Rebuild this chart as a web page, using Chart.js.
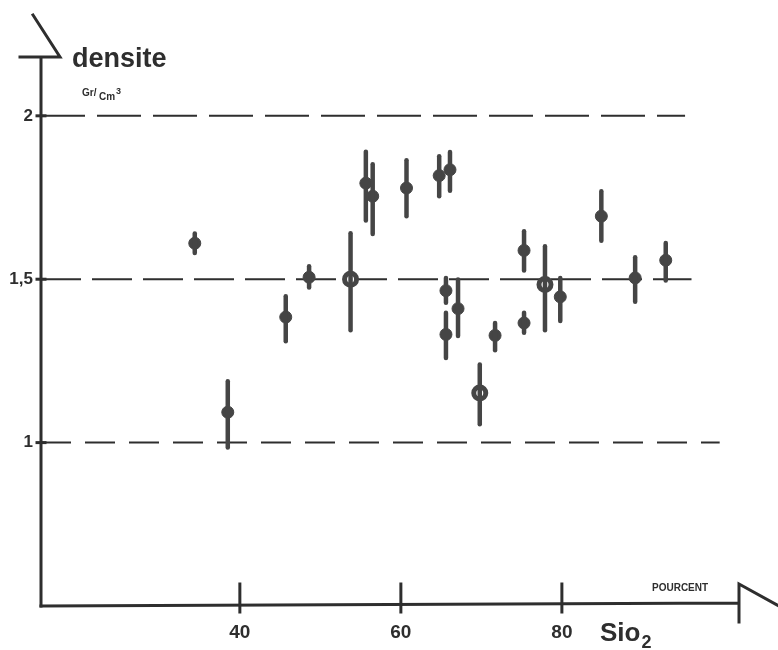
<!DOCTYPE html>
<html>
<head>
<meta charset="utf-8">
<script src="https://cdn.jsdelivr.net/npm/chart.js@4/dist/chart.umd.min.js"></script>
<style>
  html, body { margin: 0; padding: 0; background: #fff; }
  .wrap { width: 778px; height: 650px; position: relative; }
</style>
</head>
<body>
<div class="wrap"><canvas id="chart"></canvas></div>
<script>
// silice (%) et densite (g/cm3) des echantillons
const sio2 = [34.4, 38.5, 45.7, 48.6, 53.75, 55.65, 56.5, 60.7, 64.76, 66.1, 65.6,
  65.6, 67.1, 69.8, 71.7, 75.3, 75.3, 77.9, 79.8, 84.9, 89.1, 92.9];
const densite = [1.61, 1.093, 1.384, 1.506, 1.5, 1.794, 1.754, 1.779, 1.817, 1.835, 1.465,
  1.331, 1.41, 1.152, 1.328, 1.366, 1.588, 1.484, 1.446, 1.693, 1.504, 1.558];
const densiteMax = [1.64, 1.188, 1.448, 1.54, 1.641, 1.89, 1.852, 1.864, 1.876, 1.889, 1.504,
  1.397, 1.499, 1.239, 1.366, 1.397, 1.647, 1.601, 1.504, 1.769, 1.567, 1.611];
const densiteMin = [1.58, 0.985, 1.31, 1.475, 1.344, 1.68, 1.638, 1.693, 1.754, 1.771, 1.428,
  1.259, 1.326, 1.056, 1.283, 1.336, 1.527, 1.344, 1.372, 1.618, 1.431, 1.496];
const pointsCreux = [4, 13, 17];

const niveaux = [2, 1.5, 1];
const finNiveaux = [95.3, 96.1, 99.6];
const xTicks = [40, 60, 80];
const yTicks = [2, 1.5, 1];
const yTickLabels = ["2", "1,5", "1"];

const X_MIN = 15.3, X_MAX = 102, Y_MIN = 0.5, Y_MAX = 2.18;
const INK = "#2e2e2e";
const MARK = "#454545";
const dashes = [[44, 12], [40, 11], [30, 14]];

const refSets = niveaux.map((lvl, i) => ({
  type: "line",
  data: [{ x: X_MIN, y: lvl }, { x: finNiveaux[i], y: lvl }],
  borderColor: INK,
  borderWidth: 2,
  borderDash: dashes[i],
  pointRadius: 0,
  order: 2,
}));

const axesPlugin = {
  id: "axes",
  afterDatasetsDraw(chart) {
    const { ctx, scales } = chart;
    const sx = scales.x, sy = scales.y;
    const x0 = sx.getPixelForValue(X_MIN);
    const y0 = sy.getPixelForValue(Y_MIN);
    const xEnd = sx.getPixelForValue(X_MAX);
    const yTop = sy.getPixelForValue(Y_MAX);

    // barres d'erreur
    ctx.save();
    ctx.strokeStyle = MARK;
    ctx.lineWidth = 4.5;
    ctx.lineCap = "round";
    sio2.forEach((v, i) => {
      const px = sx.getPixelForValue(v);
      ctx.beginPath();
      ctx.moveTo(px, sy.getPixelForValue(densiteMax[i]));
      ctx.lineTo(px, sy.getPixelForValue(densiteMin[i]));
      ctx.stroke();
    });
    ctx.restore();

    ctx.save();
    ctx.strokeStyle = INK;
    ctx.lineWidth = 3;
    ctx.lineCap = "square";
    // axe vertical + fleche
    ctx.beginPath();
    ctx.moveTo(x0, y0);
    ctx.lineTo(x0, yTop);
    ctx.moveTo(x0 - 21, yTop);
    ctx.lineTo(x0 + 19, yTop);
    ctx.lineTo(x0 - 8, yTop - 42);
    ctx.stroke();
    // axe horizontal + fleche
    ctx.beginPath();
    ctx.moveTo(x0, y0);
    ctx.lineTo(xEnd, y0 - 3);
    ctx.moveTo(xEnd, y0 + 16);
    ctx.lineTo(xEnd, y0 - 22);
    ctx.lineTo(xEnd + 40, y0);
    ctx.stroke();
    // graduations
    xTicks.forEach((t) => {
      const px = sx.getPixelForValue(t);
      ctx.beginPath();
      ctx.moveTo(px, y0 - 22);
      ctx.lineTo(px, y0 + 6);
      ctx.stroke();
    });
    yTicks.forEach((t) => {
      const py = sy.getPixelForValue(t);
      ctx.beginPath();
      ctx.moveTo(x0 - 4, py);
      ctx.lineTo(x0 + 4, py);
      ctx.stroke();
    });
    ctx.restore();

    ctx.save();
    ctx.fillStyle = INK;
    ctx.textBaseline = "middle";
    ctx.textAlign = "center";
    ctx.font = "bold 19px 'Liberation Sans', Arial, sans-serif";
    xTicks.forEach((t) => {
      ctx.fillText(String(t), sx.getPixelForValue(t), y0 + 27);
    });
    ctx.font = "bold 17px 'Liberation Sans', Arial, sans-serif";
    ctx.textAlign = "right";
    yTicks.forEach((t, i) => {
      ctx.fillText(yTickLabels[i], x0 - 8, sy.getPixelForValue(t));
    });

    // titres
    ctx.textAlign = "left";
    ctx.textBaseline = "alphabetic";
    ctx.font = "bold 27px 'Liberation Sans', Arial, sans-serif";
    ctx.fillText("densite", 72, 67);
    ctx.font = "bold 10px 'Liberation Sans', Arial, sans-serif";
    ctx.fillText("Gr/", 82, 96);
    ctx.fillText("Cm", 99, 100);
    ctx.font = "bold 9px 'Liberation Sans', Arial, sans-serif";
    ctx.fillText("3", 116, 94);

    ctx.font = "bold 10px 'Liberation Sans', Arial, sans-serif";
    ctx.fillText("POURCENT", 652, 591);
    ctx.font = "bold 26px 'Liberation Sans', Arial, sans-serif";
    const w = ctx.measureText("Sio").width;
    ctx.fillText("Sio", 600, 641);
    ctx.font = "bold 18px 'Liberation Sans', Arial, sans-serif";
    ctx.fillText("2", 601 + w, 648);
    ctx.restore();
  },
};

new Chart(document.getElementById("chart"), {
  type: "scatter",
  data: {
    datasets: [
      {
        data: sio2.map((v, i) => ({ x: v, y: densite[i] })),
        backgroundColor: (c) => (pointsCreux.includes(c.dataIndex) ? "#ffffff" : MARK),
        borderColor: MARK,
        borderWidth: (c) => (pointsCreux.includes(c.dataIndex) ? 5 : 1),
        pointRadius: 6,
        order: 0,
      },
      ...refSets,
    ],
  },
  options: {
    responsive: true,
    maintainAspectRatio: false,
    animation: false,
    layout: { padding: { left: 41, right: 39, top: 57, bottom: 44 } },
    plugins: {
      legend: { display: false },
      tooltip: { enabled: false },
    },
    scales: {
      x: { type: "linear", min: X_MIN, max: X_MAX, display: false },
      y: { type: "linear", min: Y_MIN, max: Y_MAX, display: false },
    },
  },
  plugins: [axesPlugin],
});
</script>
</body>
</html>
